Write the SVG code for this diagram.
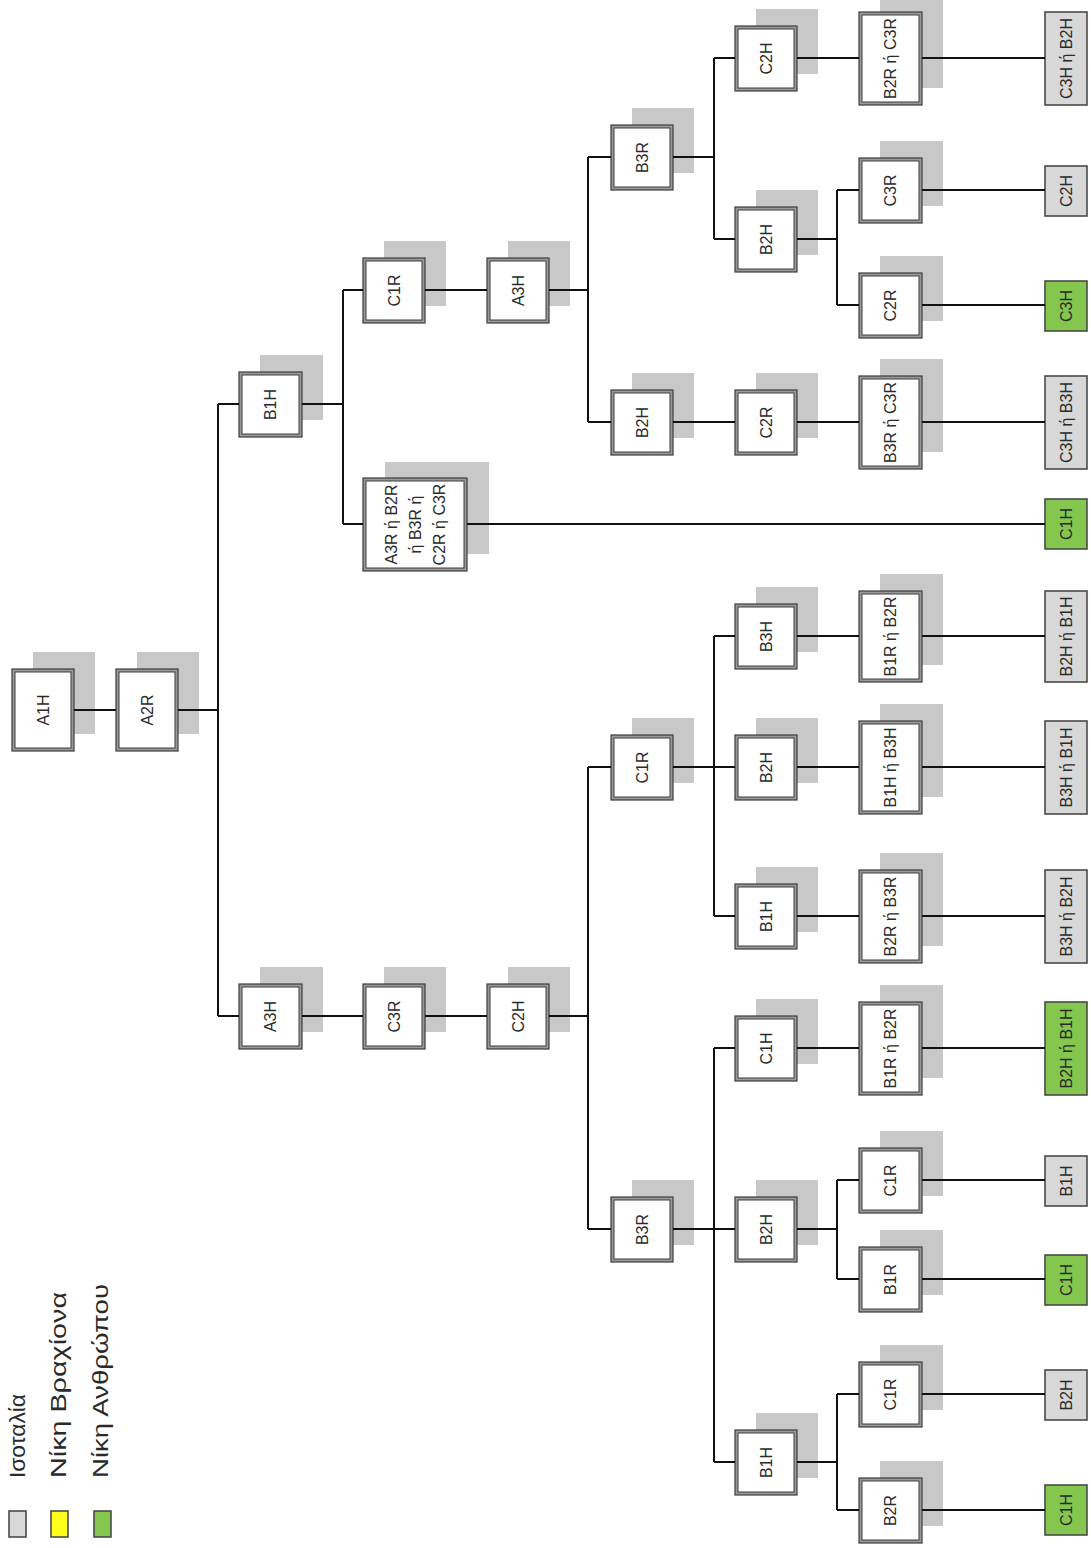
<svg xmlns="http://www.w3.org/2000/svg" width="1091" height="1548" viewBox="0 0 1091 1548">
  <style>
    .sh { fill: #c8c8c8; }
    .bx { fill: #9a9a9a; stroke: #3c3c3c; stroke-width: 1.2; }
    .in { fill: #ffffff; stroke: #3c3c3c; stroke-width: 1; }
    .lf { stroke: #4a4a4a; stroke-width: 1.6; }
    .gr { fill: #d8d8d8; }
    .gn { fill: #84c64e; }
    .ye { fill: #ffff1a; }
    .t { font-family: "Liberation Sans", Arial, sans-serif; font-size: 16px; fill: #2a2a2a; text-anchor: middle; }
    .lg { font-family: "Liberation Sans", Arial, sans-serif; font-size: 22px; fill: #2a2a2a; }
    #connectors path { fill: none; stroke: #111111; stroke-width: 2; }
  </style>
  <rect width="1091" height="1548" fill="#ffffff"/>

  <!-- legend -->
  <g id="legend">
    <rect class="gr lf" x="9" y="1511" width="17" height="26"/>
    <rect class="ye lf" x="51" y="1511" width="17" height="26"/>
    <rect class="gn lf" x="94" y="1511" width="17" height="26"/>
    <text class="lg" transform="translate(25,1478) rotate(-90)" textLength="84" lengthAdjust="spacingAndGlyphs">Ισοταλία</text>
    <text class="lg" transform="translate(66,1478) rotate(-90)" textLength="186" lengthAdjust="spacingAndGlyphs">Νίκη Βραχίονα</text>
    <text class="lg" transform="translate(108,1478) rotate(-90)" textLength="194" lengthAdjust="spacingAndGlyphs">Νίκη Ανθρώπου</text>
  </g>

  <!-- decision nodes: shadow, double frame, rotated label -->
  <g id="n01"><rect class="sh" x="33" y="652" width="62" height="82"/><rect class="bx" x="12" y="669" width="62" height="82"/><rect class="in" x="15" y="672" width="56" height="76"/><text class="t" transform="translate(43,710) rotate(-90)" dy=".35em">A1H</text></g>
  <g id="n02"><rect class="sh" x="137" y="652" width="62" height="82"/><rect class="bx" x="116" y="669" width="62" height="82"/><rect class="in" x="119" y="672" width="56" height="76"/><text class="t" transform="translate(147,710) rotate(-90)" dy=".35em">A2R</text></g>

  <g id="n03"><rect class="sh" x="260" y="355" width="63" height="65"/><rect class="bx" x="239" y="372" width="63" height="65"/><rect class="in" x="242" y="375" width="57" height="59"/><text class="t" transform="translate(270.5,404.5) rotate(-90)" dy=".35em">B1H</text></g>
  <g id="n04"><rect class="sh" x="260" y="967" width="63" height="65"/><rect class="bx" x="239" y="984" width="63" height="65"/><rect class="in" x="242" y="987" width="57" height="59"/><text class="t" transform="translate(270.5,1016.5) rotate(-90)" dy=".35em">A3H</text></g>

  <g id="n05"><rect class="sh" x="384" y="241" width="62" height="65"/><rect class="bx" x="363" y="258" width="62" height="65"/><rect class="in" x="366" y="261" width="56" height="59"/><text class="t" transform="translate(394,290.5) rotate(-90)" dy=".35em">C1R</text></g>
  <g id="n06"><rect class="sh" x="385" y="462" width="104" height="92"/><rect class="bx" x="363" y="478" width="104" height="93"/><rect class="in" x="366" y="481" width="98" height="87"/>
    <text class="t" transform="translate(415,524.5) rotate(-90)"><tspan x="0" dy="-18">A3R ή B2R</tspan><tspan x="0" dy="24">ή B3R ή</tspan><tspan x="0" dy="24">C2R ή C3R</tspan></text></g>
  <g id="n07"><rect class="sh" x="384" y="967" width="62" height="65"/><rect class="bx" x="363" y="984" width="62" height="65"/><rect class="in" x="366" y="987" width="56" height="59"/><text class="t" transform="translate(394,1016.5) rotate(-90)" dy=".35em">C3R</text></g>

  <g id="n08"><rect class="sh" x="508" y="241" width="62" height="65"/><rect class="bx" x="487" y="258" width="62" height="65"/><rect class="in" x="490" y="261" width="56" height="59"/><text class="t" transform="translate(518,290.5) rotate(-90)" dy=".35em">A3H</text></g>
  <g id="n09"><rect class="sh" x="508" y="967" width="62" height="65"/><rect class="bx" x="487" y="984" width="62" height="65"/><rect class="in" x="490" y="987" width="56" height="59"/><text class="t" transform="translate(518,1016.5) rotate(-90)" dy=".35em">C2H</text></g>

  <g id="n10"><rect class="sh" x="632" y="108" width="62" height="65"/><rect class="bx" x="611" y="125" width="62" height="65"/><rect class="in" x="614" y="128" width="56" height="59"/><text class="t" transform="translate(642,157.5) rotate(-90)" dy=".35em">B3R</text></g>
  <g id="n11"><rect class="sh" x="632" y="373" width="62" height="65"/><rect class="bx" x="611" y="390" width="62" height="65"/><rect class="in" x="614" y="393" width="56" height="59"/><text class="t" transform="translate(642,422.5) rotate(-90)" dy=".35em">B2H</text></g>
  <g id="n12"><rect class="sh" x="632" y="718" width="62" height="65"/><rect class="bx" x="611" y="735" width="62" height="65"/><rect class="in" x="614" y="738" width="56" height="59"/><text class="t" transform="translate(642,767.5) rotate(-90)" dy=".35em">C1R</text></g>
  <g id="n13"><rect class="sh" x="632" y="1180" width="62" height="65"/><rect class="bx" x="611" y="1197" width="62" height="65"/><rect class="in" x="614" y="1200" width="56" height="59"/><text class="t" transform="translate(642,1229.5) rotate(-90)" dy=".35em">B3R</text></g>

  <g id="n14"><rect class="sh" x="756" y="9" width="62" height="65"/><rect class="bx" x="735" y="26" width="62" height="65"/><rect class="in" x="738" y="29" width="56" height="59"/><text class="t" transform="translate(766,58.5) rotate(-90)" dy=".35em">C2H</text></g>
  <g id="n15"><rect class="sh" x="756" y="190" width="62" height="65"/><rect class="bx" x="735" y="207" width="62" height="65"/><rect class="in" x="738" y="210" width="56" height="59"/><text class="t" transform="translate(766,239.5) rotate(-90)" dy=".35em">B2H</text></g>
  <g id="n16"><rect class="sh" x="756" y="373" width="62" height="65"/><rect class="bx" x="735" y="390" width="62" height="65"/><rect class="in" x="738" y="393" width="56" height="59"/><text class="t" transform="translate(766,422.5) rotate(-90)" dy=".35em">C2R</text></g>
  <g id="n17"><rect class="sh" x="756" y="587" width="62" height="65"/><rect class="bx" x="735" y="604" width="62" height="65"/><rect class="in" x="738" y="607" width="56" height="59"/><text class="t" transform="translate(766,636.5) rotate(-90)" dy=".35em">B3H</text></g>
  <g id="n18"><rect class="sh" x="756" y="718" width="62" height="65"/><rect class="bx" x="735" y="735" width="62" height="65"/><rect class="in" x="738" y="738" width="56" height="59"/><text class="t" transform="translate(766,767.5) rotate(-90)" dy=".35em">B2H</text></g>
  <g id="n19"><rect class="sh" x="756" y="867" width="62" height="65"/><rect class="bx" x="735" y="884" width="62" height="65"/><rect class="in" x="738" y="887" width="56" height="59"/><text class="t" transform="translate(766,916.5) rotate(-90)" dy=".35em">B1H</text></g>
  <g id="n20"><rect class="sh" x="756" y="999" width="62" height="65"/><rect class="bx" x="735" y="1016" width="62" height="65"/><rect class="in" x="738" y="1019" width="56" height="59"/><text class="t" transform="translate(766,1048.5) rotate(-90)" dy=".35em">C1H</text></g>
  <g id="n21"><rect class="sh" x="756" y="1180" width="62" height="65"/><rect class="bx" x="735" y="1197" width="62" height="65"/><rect class="in" x="738" y="1200" width="56" height="59"/><text class="t" transform="translate(766,1229.5) rotate(-90)" dy=".35em">B2H</text></g>
  <g id="n22"><rect class="sh" x="756" y="1413" width="62" height="65"/><rect class="bx" x="735" y="1430" width="62" height="65"/><rect class="in" x="738" y="1433" width="56" height="59"/><text class="t" transform="translate(766,1462.5) rotate(-90)" dy=".35em">B1H</text></g>

  <g id="n23"><rect class="sh" x="880" y="-5" width="63" height="93"/><rect class="bx" x="859" y="12" width="63" height="93"/><rect class="in" x="862" y="15" width="57" height="87"/><text class="t" transform="translate(890.5,58.5) rotate(-90)" dy=".35em">B2R ή C3R</text></g>
  <g id="n24"><rect class="sh" x="880" y="141" width="63" height="65"/><rect class="bx" x="859" y="158" width="63" height="65"/><rect class="in" x="862" y="161" width="57" height="59"/><text class="t" transform="translate(890.5,190.5) rotate(-90)" dy=".35em">C3R</text></g>
  <g id="n25"><rect class="sh" x="880" y="256" width="63" height="65"/><rect class="bx" x="859" y="273" width="63" height="65"/><rect class="in" x="862" y="276" width="57" height="59"/><text class="t" transform="translate(890.5,305.5) rotate(-90)" dy=".35em">C2R</text></g>
  <g id="n26"><rect class="sh" x="880" y="359" width="63" height="93"/><rect class="bx" x="859" y="376" width="63" height="93"/><rect class="in" x="862" y="379" width="57" height="87"/><text class="t" transform="translate(890.5,422.5) rotate(-90)" dy=".35em">B3R ή C3R</text></g>
  <g id="n27"><rect class="sh" x="880" y="574" width="63" height="91"/><rect class="bx" x="859" y="591" width="63" height="91"/><rect class="in" x="862" y="594" width="57" height="85"/><text class="t" transform="translate(890.5,636.5) rotate(-90)" dy=".35em">B1R ή B2R</text></g>
  <g id="n28"><rect class="sh" x="880" y="704" width="63" height="93"/><rect class="bx" x="859" y="721" width="63" height="93"/><rect class="in" x="862" y="724" width="57" height="87"/><text class="t" transform="translate(890.5,767.5) rotate(-90)" dy=".35em">B1H ή B3H</text></g>
  <g id="n29"><rect class="sh" x="880" y="853" width="63" height="93"/><rect class="bx" x="859" y="870" width="63" height="93"/><rect class="in" x="862" y="873" width="57" height="87"/><text class="t" transform="translate(890.5,916.5) rotate(-90)" dy=".35em">B2R ή B3R</text></g>
  <g id="n30"><rect class="sh" x="880" y="985" width="63" height="93"/><rect class="bx" x="859" y="1002" width="63" height="93"/><rect class="in" x="862" y="1005" width="57" height="87"/><text class="t" transform="translate(890.5,1048.5) rotate(-90)" dy=".35em">B1R ή B2R</text></g>
  <g id="n31"><rect class="sh" x="880" y="1131" width="63" height="65"/><rect class="bx" x="859" y="1148" width="63" height="65"/><rect class="in" x="862" y="1151" width="57" height="59"/><text class="t" transform="translate(890.5,1180.5) rotate(-90)" dy=".35em">C1R</text></g>
  <g id="n32"><rect class="sh" x="880" y="1230" width="63" height="65"/><rect class="bx" x="859" y="1247" width="63" height="65"/><rect class="in" x="862" y="1250" width="57" height="59"/><text class="t" transform="translate(890.5,1279.5) rotate(-90)" dy=".35em">B1R</text></g>
  <g id="n33"><rect class="sh" x="880" y="1345" width="63" height="65"/><rect class="bx" x="859" y="1362" width="63" height="65"/><rect class="in" x="862" y="1365" width="57" height="59"/><text class="t" transform="translate(890.5,1394.5) rotate(-90)" dy=".35em">C1R</text></g>
  <g id="n34"><rect class="sh" x="880" y="1461" width="63" height="65"/><rect class="bx" x="859" y="1478" width="63" height="65"/><rect class="in" x="862" y="1481" width="57" height="59"/><text class="t" transform="translate(890.5,1510.5) rotate(-90)" dy=".35em">B2R</text></g>

  <!-- outcome leaves -->
  <g id="n35"><rect class="gr lf" x="1045" y="12" width="42" height="93"/><text class="t" transform="translate(1066,58.5) rotate(-90)" dy=".35em">C3H ή B2H</text></g>
  <g id="n36"><rect class="gr lf" x="1045" y="166" width="42" height="50"/><text class="t" transform="translate(1066,191) rotate(-90)" dy=".35em">C2H</text></g>
  <g id="n37"><rect class="gn lf" x="1045" y="281" width="42" height="50"/><text class="t" transform="translate(1066,306) rotate(-90)" dy=".35em">C3H</text></g>
  <g id="n38"><rect class="gr lf" x="1045" y="376" width="42" height="93"/><text class="t" transform="translate(1066,422.5) rotate(-90)" dy=".35em">C3H ή B3H</text></g>
  <g id="n39"><rect class="gn lf" x="1045" y="499" width="42" height="50"/><text class="t" transform="translate(1066,524) rotate(-90)" dy=".35em">C1H</text></g>
  <g id="n40"><rect class="gr lf" x="1045" y="591" width="42" height="91"/><text class="t" transform="translate(1066,636.5) rotate(-90)" dy=".35em">B2H ή B1H</text></g>
  <g id="n41"><rect class="gr lf" x="1045" y="721" width="42" height="93"/><text class="t" transform="translate(1066,767.5) rotate(-90)" dy=".35em">B3H ή B1H</text></g>
  <g id="n42"><rect class="gr lf" x="1045" y="870" width="42" height="93"/><text class="t" transform="translate(1066,916.5) rotate(-90)" dy=".35em">B3H ή B2H</text></g>
  <g id="n43"><rect class="gn lf" x="1045" y="1002" width="42" height="93"/><text class="t" transform="translate(1066,1048.5) rotate(-90)" dy=".35em">B2H ή B1H</text></g>
  <g id="n44"><rect class="gr lf" x="1045" y="1156" width="42" height="50"/><text class="t" transform="translate(1066,1181) rotate(-90)" dy=".35em">B1H</text></g>
  <g id="n45"><rect class="gn lf" x="1045" y="1255" width="42" height="50"/><text class="t" transform="translate(1066,1280) rotate(-90)" dy=".35em">C1H</text></g>
  <g id="n46"><rect class="gr lf" x="1045" y="1370" width="42" height="50"/><text class="t" transform="translate(1066,1395) rotate(-90)" dy=".35em">B2H</text></g>
  <g id="n47"><rect class="gn lf" x="1045" y="1485" width="42" height="50"/><text class="t" transform="translate(1066,1510) rotate(-90)" dy=".35em">C1H</text></g>

  <!-- connectors: drawn above the shadows, ending at frame edges -->
  <g id="connectors">
    <path d="M74 710H116"/>
    <path d="M178 710H218M218 404V1016M218 404H239M218 1016H239"/>
    <path d="M302 404H343M343 290V524M343 290H363M343 524H363"/>
    <path d="M425 290H487"/>
    <path d="M549 290H588M588 157V422M588 157H611M588 422H611"/>
    <path d="M467 524H1045"/>
    <path d="M302 1016H363M425 1016H487"/>
    <path d="M549 1016H588M588 767V1229M588 767H611M588 1229H611"/>
    <path d="M673 157H714M714 58V239M714 58H735M714 239H735"/>
    <path d="M797 58H859M922 58H1045"/>
    <path d="M797 239H837M837 190V305M837 190H859M837 305H859"/>
    <path d="M922 190H1045M922 305H1045"/>
    <path d="M673 422H735M797 422H859M922 422H1045"/>
    <path d="M673 767H714M714 636V916M714 636H735M714 767H735M714 916H735"/>
    <path d="M797 636H859M922 636H1045"/>
    <path d="M797 767H859M922 767H1045"/>
    <path d="M797 916H859M922 916H1045"/>
    <path d="M673 1229H714M714 1048V1462M714 1048H735M714 1229H735M714 1462H735"/>
    <path d="M797 1048H859M922 1048H1045"/>
    <path d="M797 1229H837M837 1180V1279M837 1180H859M837 1279H859"/>
    <path d="M922 1180H1045M922 1279H1045"/>
    <path d="M797 1462H837M837 1394V1510M837 1394H859M837 1510H859"/>
    <path d="M922 1394H1045M922 1510H1045"/>
  </g>
</svg>
